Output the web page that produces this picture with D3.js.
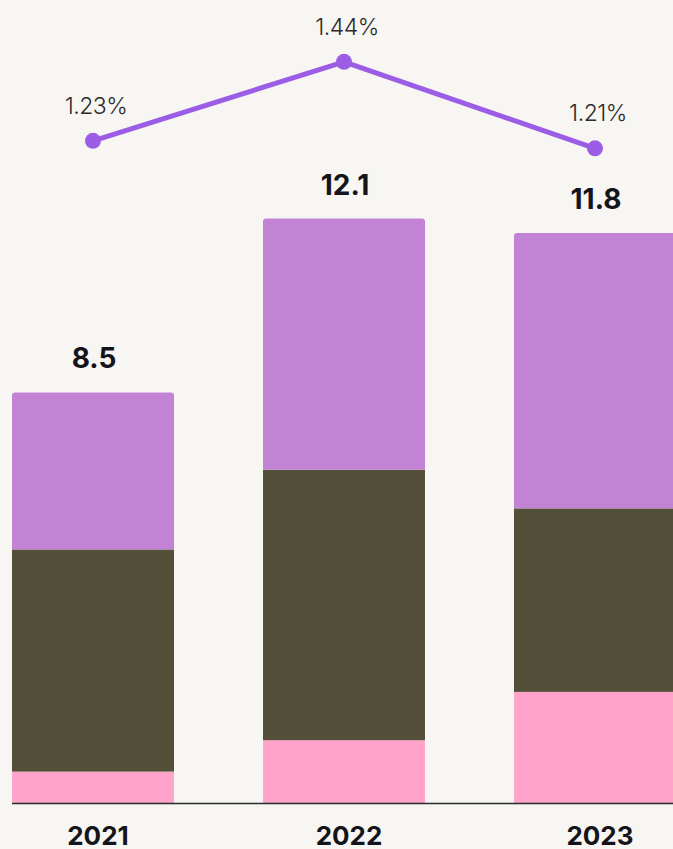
<!DOCTYPE html>
<html><head><meta charset="utf-8">
<script src="https://cdn.jsdelivr.net/npm/d3@7"></script>
<style>html,body{margin:0;padding:0;background:#f8f6f2;overflow:hidden}</style>
</head><body>
<svg id="c" width="673" height="849"></svg>
<script>
const years = ["2021", "2022", "2023"];
const pinkVals = [0.65, 1.3, 2.3];
const darkVals = [4.6, 5.6, 3.8];
const purpleVals = [3.25, 5.2, 5.7];
const totals = [8.5, 12.1, 11.8];
const totalLabels = ["8.5", "12.1", "11.8"];
const rateVals = [1.23, 1.44, 1.21];
const rateLabels = ["1.23%", "1.44%", "1.21%"];
const seriesKeys = ["pink", "dark", "purple"];
const colors = {pink: "#ffa3cb", dark: "#544f38", purple: "#c383d4"};

const rows = years.map((y, i) => ({year: y, pink: pinkVals[i], dark: darkVals[i], purple: purpleVals[i]}));

const svg = d3.select("#c");
const font = "Inter, 'Noto Sans', sans-serif";

const x = d3.scaleBand().domain(years).range([12, 676]).paddingInner(0.3546).paddingOuter(0);
const y = d3.scaleLinear().domain([0, 12]).range([803, 803 - 12 * 48.3]);
const yr = d3.scaleLinear().domain([1.0, 1.5]).range([227.3, 39.3]);

const stacked = d3.stack().keys(seriesKeys)(rows);

// bars
const g = svg.append("g");
const topLayer = stacked[stacked.length - 1];
g.selectAll(null).data(topLayer).enter().append("rect")
  .attr("x", d => x(d.data.year))
  .attr("width", x.bandwidth())
  .attr("y", d => y(d[1]))
  .attr("height", 10)
  .attr("rx", 3)
  .attr("fill", colors.purple);
stacked.forEach(layer => {
  g.selectAll(null).data(layer).enter().append("rect")
    .attr("x", d => x(d.data.year))
    .attr("width", x.bandwidth())
    .attr("y", d => y(d[1]) + (layer.key === "purple" ? 4 : 0))
    .attr("height", d => y(d[0]) - y(d[1]) - (layer.key === "purple" ? 4 : 0))
    .attr("fill", colors[layer.key]);
});

// baseline
svg.append("line").attr("x1", 12).attr("x2", 673).attr("y1", y(0) + 0.5).attr("y2", y(0) + 0.5)
  .attr("stroke", "#2a2a2a").attr("stroke-width", 1.5);

// total labels
svg.selectAll(null).data(years).enter().append("text")
  .attr("x", d => x(d) + x.bandwidth() / 2 + 1)
  .attr("y", (d, i) => y(totals[i]) - 24)
  .attr("text-anchor", "middle")
  .attr("font-family", font).attr("font-weight", 700).attr("font-size", 28)
  .attr("fill", "#15141a")
  .text((d, i) => totalLabels[i]);

// year labels
svg.selectAll(null).data(years).enter().append("text")
  .attr("x", d => x(d) + x.bandwidth() / 2 + 5)
  .attr("y", 845)
  .attr("text-anchor", "middle")
  .attr("font-family", font).attr("font-weight", 700).attr("font-size", 26)
  .attr("fill", "#15141a")
  .text(d => d);

// line
const cx = d => x(d) + x.bandwidth() / 2;
const line = d3.line().x((d, i) => cx(years[i])).y(d => yr(d));
svg.append("path").datum(rateVals).attr("d", line)
  .attr("fill", "none").attr("stroke", "#9b5de5").attr("stroke-width", 5).attr("stroke-linejoin", "round");
svg.selectAll(null).data(rateVals).enter().append("circle")
  .attr("cx", (d, i) => cx(years[i]))
  .attr("cy", d => yr(d))
  .attr("r", 8).attr("fill", "#9b5de5");
svg.selectAll(null).data(rateVals).enter().append("text")
  .attr("x", (d, i) => cx(years[i]) + 3)
  .attr("y", d => yr(d) - 27)
  .attr("text-anchor", "middle")
  .attr("font-family", font).attr("font-weight", 300).attr("font-size", 23)
  .attr("letter-spacing", -0.5)
  .attr("fill", "#2b2b2b")
  .text((d, i) => rateLabels[i]);
</script>
</body></html>
